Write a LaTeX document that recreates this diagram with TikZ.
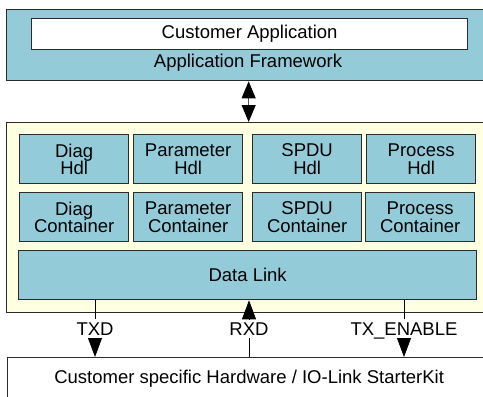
\documentclass[tikz,border=0pt]{standalone}
\usepackage{fontspec}
\setmainfont{Liberation Sans}
\usetikzlibrary{arrows.meta}
\definecolor{boxblue}{HTML}{93CBD9}
\definecolor{cream}{HTML}{FFFFE1}
\definecolor{edgec}{HTML}{2B2B2B}
\definecolor{wiregray}{HTML}{555555}
\newcommand\dfont{\fontsize{18.5}{17.5}\selectfont}
\begin{document}
\begin{tikzpicture}[x=1pt,y=-1pt,
  frame/.style={draw=edgec, line width=1.3pt, inner sep=0pt, anchor=north west},
  blk/.style={frame, fill=boxblue, minimum width=109pt, minimum height=49pt, align=center, font=\dfont},
  txt/.style={font=\dfont, inner sep=0pt},
  sig/.style={font=\dfont, inner xsep=0pt, inner ysep=3pt, text height=13pt, text depth=0pt},
  wire/.style={line width=0.8pt, draw=black},
  tip/.style={-{Triangle[width=14pt,length=19pt]}}
]
\useasboundingbox (0,0) rectangle (483,397);
\clip (0,0) rectangle (483,397);
\fill[white] (0,0) rectangle (483,397);

% application framework
\node[frame, fill=boxblue, minimum width=484pt, minimum height=71pt] (fw) at (6,9) {};
\node[frame, fill=white, minimum width=436pt, minimum height=31pt, font=\dfont] (ca) at (31,18) {Customer Application};
\node[txt] (fwl) at (248,63) {Application Framework};

% stack
\node[frame, fill=cream, minimum width=484pt, minimum height=190pt] (mid) at (6,122) {};
\node[blk] (dh) at (19,134) {Diag\\Hdl};
\node[blk] (ph) at (133,134) {Parameter\\Hdl};
\node[blk] (sh) at (252,134) {SPDU\\Hdl};
\node[blk] (prh) at (366,134) {Process\\Hdl};
\node[blk] (dc) at (19,192) {Diag\\Container};
\node[blk] (pc) at (133,192) {Parameter\\Container};
\node[blk] (sc) at (252,192) {SPDU\\Container};
\node[blk] (prc) at (365,192) {Process\\Container};
\node[blk, minimum width=458pt] (dl) at (18,250) {Data Link};

% hardware
\node[frame, fill=white, minimum width=483pt, minimum height=43pt, font=\dfont] (hw) at (7,357) {Customer specific Hardware / IO-Link StarterKit};

% double arrow
\draw[line width=1pt, draw=wiregray,
  {Triangle[width=14pt,length=17pt,color=black]}-{Triangle[width=14pt,length=17pt,color=black]}]
  (fw.south) -- (mid.north);

% signals
\node[sig] (txd) at (95,328.5) {TXD};
\node[sig] (rxd) at (249,328.5) {RXD};
\node[sig] (txe) at (404,328.5) {TX\_ENABLE};

\draw[wire] (dl.south -| txd) -- (txd.north);
\draw[wire, tip] (txd.south) -- (hw.north -| txd);
\draw[wire] (dl.south -| txe) -- (txe.north);
\draw[wire, tip] (txe.south) -- (hw.north -| txe);
\draw[wire] (hw.north -| rxd) -- (rxd.south);
\draw[wire, tip] (rxd.north) -- (dl.south -| rxd);
\end{tikzpicture}
\end{document}
